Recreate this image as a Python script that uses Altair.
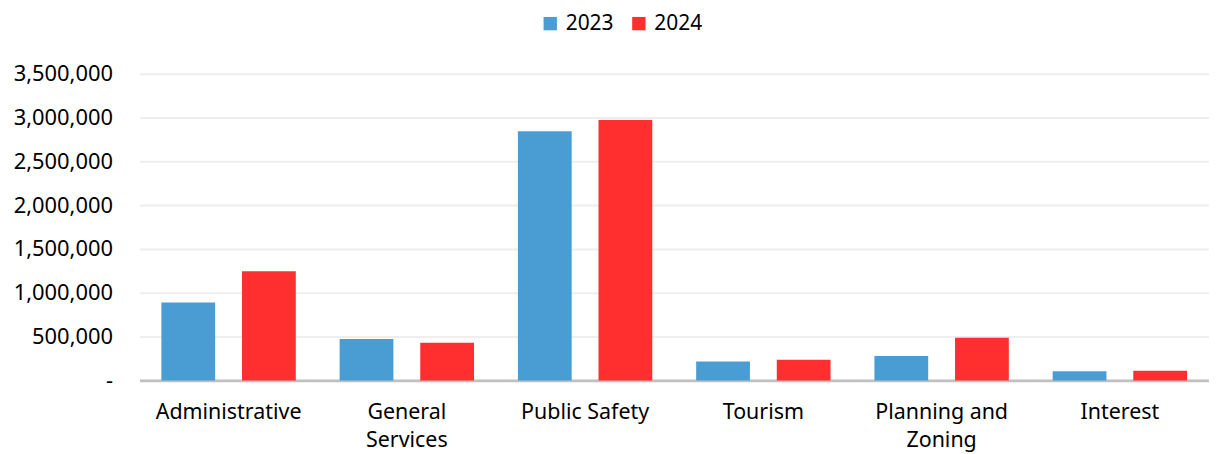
import altair as alt
import pandas as pd

categories = ["Administrative", "General Services", "Public Safety", "Tourism", "Planning and Zoning", "Interest"]
values_2023 = [889000, 472000, 2843000, 214000, 278000, 105000]
values_2024 = [1244000, 430000, 2972000, 236000, 486000, 111000]
years = ["2023", "2024"]
colors = ["#4A9DD3", "#FF2F2F"]

rows = []
for c, a, b in zip(categories, values_2023, values_2024):
    rows.append({"category": c, "year": years[0], "value": a})
    rows.append({"category": c, "year": years[1], "value": b})
df = pd.DataFrame(rows)

label_expr = ("datum.value == 'General Services' ? ['General', 'Services'] : "
              "datum.value == 'Planning and Zoning' ? ['Planning and', 'Zoning'] : datum.value")

FONT = "Noto Sans"

chart = alt.Chart(df).mark_bar().encode(
    x=alt.X("category:N", sort=categories, title=None,
            scale=alt.Scale(paddingInner=0, paddingOuter=0),
            axis=alt.Axis(labelAngle=0, labelExpr=label_expr, ticks=False,
                          domainColor="#c0c0c0", domainWidth=3,
                          labelFontSize=21.5, labelFont=FONT, labelColor="#000000",
                          labelPadding=21, labelLineHeight=28)),
    xOffset=alt.XOffset("year:N", scale=alt.Scale(paddingInner=0.333, paddingOuter=0.272)),
    y=alt.Y("value:Q", title=None,
            scale=alt.Scale(domain=[0, 3500000]),
            axis=alt.Axis(values=[0, 500000, 1000000, 1500000, 2000000, 2500000, 3000000, 3500000],
                          labelExpr="datum.value == 0 ? '-' : format(datum.value, ',')",
                          domain=False, ticks=False, gridColor="#eeeeee", gridWidth=2,
                          labelFontSize=22, labelFont=FONT, labelColor="#000000",
                          labelPadding=27)),
    color=alt.Color("year:N", scale=alt.Scale(domain=years, range=colors),
                    legend=alt.Legend(title=None, orient="none", direction="horizontal",
                                      legendX=402, legendY=-61,
                                      symbolType="square", symbolSize=180,
                                      labelFontSize=21, labelFont=FONT, labelColor="#000000",
                                      columnPadding=14, labelOffset=5)),
).properties(
    width=1074, height=308,
    autosize=alt.AutoSizeParams(type="none"),
    padding={"left": 132, "top": 65, "right": 0, "bottom": 73},
).configure_view(stroke=None)

chart.save("out.html", embed_options={"renderer": "svg", "actions": False})
